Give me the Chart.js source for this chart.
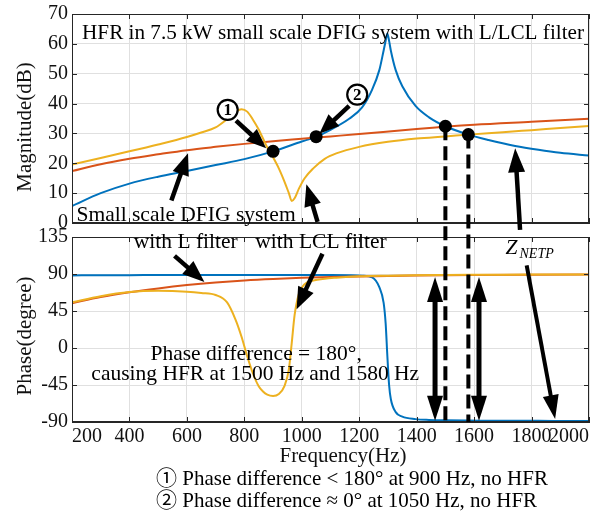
<!DOCTYPE html>
<html>
<head>
<meta charset="utf-8">
<script src="https://cdn.jsdelivr.net/npm/chart.js@4.4.1/dist/chart.umd.min.js"></script>
<style>
  html, body { margin: 0; padding: 0; background: #fff; }
  #wrap { position: relative; width: 610px; height: 512px; overflow: hidden;
          font-family: 'Liberation Serif', 'Noto Sans CJK SC', serif; color: #000; }
  canvas { position: absolute; left: 0; top: 0; }
  .note { position: absolute; left: 156px; font-size: 21px; line-height: 22px; white-space: nowrap; }
</style>
</head>
<body>
<div id="wrap">
  <canvas id="magChart" width="610" height="512"></canvas>
  <canvas id="phaseChart" width="610" height="512"></canvas>
  <div class="note" style="top:467px">① Phase difference &lt; 180° at 900 Hz, no HFR</div>
  <div class="note" style="top:489px">② Phase difference ≈ 0° at 1050 Hz, no HFR</div>
</div>
<script>
// tick values
const freqTicks = [200, 400, 600, 800, 1000, 1200, 1400, 1600, 1800, 2000];
const magTicks = [0, 10, 20, 30, 40, 50, 60, 70];
const phaseTicks = [-90, -45, 0, 45, 90, 135];

// Z_NETP (blue)
const netpFreq = [200, 300, 400, 500, 600, 700, 800, 900, 1000, 1050, 1100, 1165, 1210, 1245, 1270, 1285, 1292, 1298, 1304, 1310, 1327, 1350, 1396, 1443, 1500, 1580, 1650, 1743, 1824, 1900, 2000];
const netpMag = [5.7, 10, 13.2, 15.5, 17.4, 19.4, 21.4, 24, 27.3, 28.9, 31.2, 34.9, 38.7, 44.7, 51.2, 57.8, 61, 63.5, 61, 57.8, 51.2, 45.8, 39.2, 35.4, 32.4, 29.6, 27.8, 25.8, 24.5, 23.5, 22.6];
const netpPhase = [88.3, 88.5, 88.6, 88.7, 88.8, 88.8, 88.9, 88.9, 88.9, 88.9, 88.8, 88.5, 88, 86, 74, 55, 30, -10, -45, -62, -78, -83.5, -86.5, -87.5, -88, -88.3, -88.4, -88.5, -88.6, -88.7, -88.8];

// small scale DFIG with L filter (orange)
const lFreq = [200, 300, 400, 500, 600, 700, 800, 900, 1000, 1100, 1200, 1400, 1600, 1800, 2000];
const lMag = [17.4, 19.7, 21.5, 23.0, 24.4, 25.5, 26.5, 27.4, 28.2, 29.0, 29.8, 31.5, 32.9, 33.9, 34.9];
const lPhase = [54.5, 62, 67.8, 72.5, 76.5, 79.7, 82.2, 84, 85.3, 86.3, 87.1, 88.1, 88.8, 89.2, 89.5];

// small scale DFIG with LCL filter (yellow)
const lclFreq = [200, 300, 400, 500, 600, 650, 700, 740, 770, 790, 810, 830, 850, 865, 880, 900, 920, 940, 955, 965, 975, 990, 1010, 1040, 1080, 1120, 1200, 1300, 1400, 1500, 1580, 1700, 1800, 1900, 2000];
const lclMag = [19.6, 21.8, 24.0, 26.3, 28.8, 30.3, 32.0, 34.8, 37.2, 38.1, 37.3, 34.6, 31.3, 28.3, 25.3, 22.0, 18.3, 13.8, 10.0, 7.4, 8.3, 11.5, 15.0, 18.3, 21.5, 23.3, 25.5, 27.2, 28.3, 29.0, 29.6, 30.4, 31.1, 31.8, 32.5];
const lclPhase = [55.5, 63, 68, 69.5, 68.5, 67, 64.5, 55.5, 34, 14, -10, -31, -46.5, -53, -56.8, -58.4, -56, -46, -26, 6, 40, 66, 77.5, 82, 84.3, 85.5, 87.2, 88, 88.5, 88.8, 89, 89.2, 89.3, 89.4, 89.5];

// marked crossing points
const hfrFreq = [900, 1050, 1500, 1580];
const hfrMag = [24.0, 28.9, 32.4, 29.6];

const serif = "'Liberation Serif', 'Times New Roman', serif";
Chart.defaults.font.family = serif;
Chart.defaults.font.size = 20;
Chart.defaults.color = '#111';

const blue = '#0072BD', orange = '#D95319', yellow = '#EDB120';
const gridColor = '#e0e0e0', axisColor = '#262626';

const pts = (xs, ys) => xs.map((x, i) => ({x: x, y: ys[i]}));

function line(data, color) {
  return {data: data, borderColor: color, borderWidth: 2, pointRadius: 0,
          cubicInterpolationMode: 'monotone', fill: false};
}

// box with inward tick marks, like the original figure
const boxPlugin = {
  id: 'box',
  afterDraw(chart) {
    const {ctx, chartArea: a, scales} = chart;
    ctx.save();
    ctx.strokeStyle = axisColor;
    ctx.lineWidth = 1;
    ctx.strokeRect(a.left + 0.5, a.top + 0.5, a.right - a.left - 1, a.bottom - a.top - 1);
    ctx.beginPath();
    scales.x.ticks.forEach(t => {
      const x = Math.round(scales.x.getPixelForValue(t.value)) + 0.5;
      ctx.moveTo(x, a.top); ctx.lineTo(x, a.top + 5);
      ctx.moveTo(x, a.bottom); ctx.lineTo(x, a.bottom - 5);
    });
    scales.y.ticks.forEach(t => {
      const y = Math.round(scales.y.getPixelForValue(t.value)) + 0.5;
      ctx.moveTo(a.left, y); ctx.lineTo(a.left + 5, y);
      ctx.moveTo(a.right, y); ctx.lineTo(a.right - 5, y);
    });
    ctx.stroke();
    ctx.restore();
  }
};

function xAxis(showLabels, h) {
  return {
    type: 'linear', min: 200, max: 2000,
    afterBuildTicks: s => { s.ticks = freqTicks.map(v => ({value: v})); },
    afterFit: s => { s.height = h; s.paddingLeft = 0; s.paddingRight = 0; },
    grid: {color: gridColor, drawTicks: false},
    border: {color: axisColor},
    ticks: {display: showLabels, padding: 5, maxRotation: 0, autoSkip: false, align: 'inner',
            font: {lineHeight: 1}, callback: v => String(v)}
  };
}

function yAxis(min, max, tickList) {
  return {
    min: min, max: max,
    afterBuildTicks: s => { s.ticks = tickList.map(v => ({value: v})); },
    afterFit: s => { s.width = 72; },
    grid: {color: gridColor, drawTicks: false},
    border: {color: axisColor},
    ticks: {padding: 4, font: {lineHeight: 1}, callback: v => String(v)}
  };
}

const common = {
  responsive: false, animation: false, events: [],
  plugins: {legend: {display: false}, tooltip: {enabled: false}}
};

const magChart = new Chart(document.getElementById('magChart'), {
  type: 'line',
  data: {datasets: [
    {data: pts(hfrFreq, hfrMag), showLine: false, pointRadius: 6.5,
     pointBackgroundColor: '#000', pointBorderWidth: 0},
    line(pts(lclFreq, lclMag), yellow),
    line(pts(lFreq, lMag), orange),
    line(pts(netpFreq, netpMag), blue)
  ]},
  options: Object.assign({}, common, {
    layout: {padding: {top: 10, bottom: 289, left: 0, right: 21}},
    scales: {x: xAxis(false, 0), y: yAxis(0, 70, magTicks)}
  }),
  plugins: [boxPlugin]
});

function arrowHead(ctx, x, y, ang, hl, hw) {
  const c = Math.cos(ang), s = Math.sin(ang);
  ctx.beginPath();
  ctx.moveTo(x, y);
  ctx.lineTo(x - hl * c + hw / 2 * s, y - hl * s - hw / 2 * c);
  ctx.lineTo(x - hl * c - hw / 2 * s, y - hl * s + hw / 2 * c);
  ctx.closePath();
  ctx.fill();
}

function arrow(ctx, x1, y1, x2, y2, lw, hl, hw, both) {
  const ang = Math.atan2(y2 - y1, x2 - x1);
  const c = Math.cos(ang), s = Math.sin(ang);
  const sx = both ? x1 + hl * 0.8 * c : x1, sy = both ? y1 + hl * 0.8 * s : y1;
  ctx.lineWidth = lw;
  ctx.beginPath();
  ctx.moveTo(sx, sy);
  ctx.lineTo(x2 - hl * 0.8 * c, y2 - hl * 0.8 * s);
  ctx.stroke();
  arrowHead(ctx, x2, y2, ang, hl, hw);
  if (both) arrowHead(ctx, x1, y1, ang + Math.PI, hl, hw);
}

function circled(ctx, x, y, n) {
  ctx.beginPath();
  ctx.arc(x, y, 10, 0, Math.PI * 2);
  ctx.fillStyle = '#fff';
  ctx.fill();
  ctx.lineWidth = 2.2;
  ctx.stroke();
  ctx.fillStyle = '#000';
  ctx.font = 'bold 17px ' + serif;
  ctx.textAlign = 'center';
  ctx.textBaseline = 'middle';
  ctx.fillText(n, x, y + 1);
}

function vText(ctx, text, x, y) {
  ctx.save();
  ctx.translate(x, y);
  ctx.rotate(-Math.PI / 2);
  ctx.fillText(text, 0, 0);
  ctx.restore();
}

// annotations for both panels, drawn on the upper canvas
const notesPlugin = {
  id: 'notes',
  afterDraw(chart) {
    const ctx = chart.ctx;
    const mx = f => magChart.scales.x.getPixelForValue(f);
    const my = v => magChart.scales.y.getPixelForValue(v);
    const px = f => chart.scales.x.getPixelForValue(f);
    const py = v => chart.scales.y.getPixelForValue(v);
    ctx.save();
    ctx.fillStyle = '#000';
    ctx.strokeStyle = '#000';

    // dashed lines at the HFR frequencies
    ctx.lineWidth = 4;
    ctx.setLineDash([14, 6]);
    [[1500, 32.4], [1580, 29.6]].forEach(([f, v]) => {
      ctx.beginPath();
      ctx.moveTo(mx(f), my(v));
      ctx.lineTo(px(f), py(-90));
      ctx.stroke();
    });
    ctx.setLineDash([]);

    // arrows, magnitude panel
    arrow(ctx, mx(771), my(34.3), mx(876), my(25.0), 4.5, 20, 16);
    arrow(ctx, mx(1165), my(39.2), mx(1061), my(29.9), 4.5, 20, 16);
    arrow(ctx, mx(546), my(7.5), mx(604), my(23.4), 4.5, 22, 17);
    arrow(ctx, mx(1055), my(0.4), mx(1016), my(13.0), 4.5, 22, 17);
    arrow(ctx, mx(1760), my(-2.3), mx(1743), my(25.0), 4.5, 24, 17);

    // arrows, phase panel
    arrow(ctx, px(557), py(112), px(661), py(80.3), 4.5, 22, 17);
    arrow(ctx, px(1072), py(114.6), px(982), py(47), 4.5, 22, 17);
    arrow(ctx, px(1783), py(100.5), px(1882), py(-86.5), 4, 24, 16);
    arrow(ctx, px(1464), py(86.4), px(1464), py(-88.5), 5, 25, 16, true);
    arrow(ctx, px(1617), py(86.4), px(1617), py(-88.5), 5, 25, 16, true);

    circled(ctx, mx(742), my(37.9), '1');
    circled(ctx, mx(1193), my(43.0), '2');

    // axis titles
    ctx.fillStyle = '#111';
    ctx.font = '21px ' + serif;
    ctx.textAlign = 'center';
    ctx.textBaseline = 'middle';
    vText(ctx, 'Magnitude(dB)', 25, 127);
    vText(ctx, 'Phase(degree)', 25, 336);
    ctx.fillText('Frequency(Hz)', 343, 456);

    // texts
    ctx.fillStyle = '#000';
    ctx.font = '21.2px ' + serif;
    ctx.textBaseline = 'alphabetic';
    ctx.textAlign = 'left';
    ctx.fillText('HFR in 7.5 kW small scale DFIG system with L/LCL filter', mx(235), my(61.6));
    ctx.font = '21.5px ' + serif;
    ctx.textAlign = 'center';
    ctx.fillText('Small scale DFIG system', mx(597), my(0.6));
    ctx.fillText('with L filter', px(596), py(122.2));
    ctx.fillText('with LCL filter', px(1067), py(122.2));
    ctx.fillText('Phase difference = 180°,', px(841), py(-14.1));
    ctx.fillText('causing HFR at 1500 Hz and 1580 Hz', px(838), py(-39.1));
    ctx.textAlign = 'left';
    ctx.font = 'italic 21.5px ' + serif;
    ctx.fillText('Z', px(1709), py(114.6));
    ctx.font = 'italic 14px ' + serif;
    ctx.fillText('NETP', px(1758), py(108.9));
    ctx.restore();
  }
};

const phaseChart = new Chart(document.getElementById('phaseChart'), {
  type: 'line',
  data: {datasets: [
    line(pts(lclFreq, lclPhase), yellow),
    line(pts(lFreq, lPhase), orange),
    line(pts(netpFreq, netpPhase), blue)
  ]},
  options: Object.assign({}, common, {
    layout: {padding: {top: 237, bottom: 60, left: 0, right: 21}},
    scales: {x: xAxis(true, 30), y: yAxis(-90, 135, phaseTicks)}
  }),
  plugins: [boxPlugin, notesPlugin]
});
</script>
</body>
</html>
